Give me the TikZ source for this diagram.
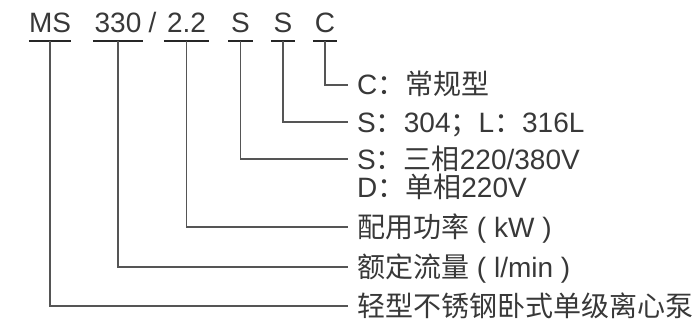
\documentclass[tikz,border=0pt]{standalone}
\usepackage{fontspec}
\setmainfont{Liberation Sans}
\newfontfamily\cjk{Noto Sans CJK SC}
\definecolor{txt}{HTML}{383838}
\definecolor{ln}{HTML}{555555}
\definecolor{ul}{HTML}{262626}
\begin{document}
\begin{tikzpicture}[x=1pt,y=-1pt,
  every node/.style={font=\fontsize{28}{30}\selectfont, text=txt},
  code/.style={anchor=base, inner xsep=0pt, inner ysep=0pt, text depth=8pt},
  lbl/.style={anchor=west, inner xsep=9pt, inner ysep=0pt, text height=20pt, text depth=0pt},
  conn/.style={draw=ln, line width=1.4pt},
  uline/.style={draw=ul, line width=2.6pt}]
\useasboundingbox (0,0) rectangle (700,323);
% code row
\node[code, minimum width=42pt] (ms) at (50,33) {MS};
\node[code, minimum width=50pt] (flow) at (118,33) {330};
\node[code] (slash) at (152.5,33) {/};
\node[code, minimum width=45pt] (pw) at (186.5,33) {2.2};
\node[code, minimum width=24pt] (ph) at (240.5,33) {S};
\node[code, minimum width=24pt] (mat) at (283,33) {S};
\node[code, minimum width=24pt] (typ) at (325,33) {C};
\foreach \n in {ms,flow,pw,ph,mat,typ}
  \draw[uline] (\n.south west) -- (\n.south east);
% labels
\node[lbl] (ltyp) at (348,85) {C{\cjk：常规型}};
\node[lbl] (lmat) at (348,122) {S{\cjk：}304{\cjk；}L{\cjk：}316L};
\node[lbl] (lph) at (348,159) {S{\cjk：三相}220/380V};
\node[anchor=base west, inner sep=0pt] (lph2) at (357,197) {D{\cjk：单相}220V};
\node[lbl] (lpw) at (348,227) {{\cjk 配用功率} ( kW )};
\node[lbl] (lflow) at (348,267) {{\cjk 额定流量} ( l/min )};
\node[lbl] (lms) at (348,306) {\cjk 轻型不锈钢卧式单级离心泵};
% connectors
\draw[conn] (typ.south) |- (ltyp.west);
\draw[conn] (mat.south) |- (lmat.west);
\draw[conn] (ph.south) |- (lph.west);
\draw[conn] (pw.south) |- (lpw.west);
\draw[conn] (flow.south) |- (lflow.west);
\draw[conn] (ms.south) |- (lms.west);
\end{tikzpicture}
\end{document}
